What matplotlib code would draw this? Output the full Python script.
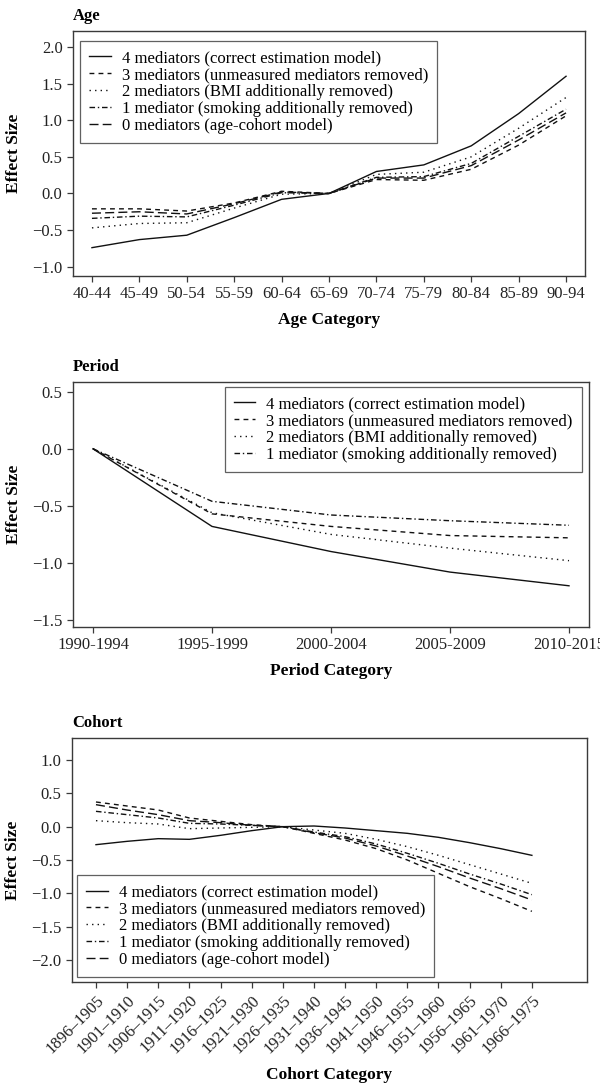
import matplotlib
matplotlib.use("Agg")
import matplotlib.pyplot as plt

plt.rcParams['font.family'] = ['Liberation Serif', 'DejaVu Serif']
plt.rcParams['axes.unicode_minus'] = True

# ---------------- data ----------------
age_cats = ["40-44", "45-49", "50-54", "55-59", "60-64", "65-69", "70-74",
            "75-79", "80-84", "85-89", "90-94"]
age_m4 = [-0.74, -0.63, -0.57, -0.33, -0.08, 0.0, 0.30, 0.39, 0.65, 1.09, 1.60]
age_m3 = [-0.21, -0.21, -0.24, -0.13, 0.03, 0.0, 0.19, 0.18, 0.33, 0.66, 1.06]
age_m2 = [-0.47, -0.41, -0.40, -0.20, -0.01, 0.0, 0.26, 0.29, 0.50, 0.89, 1.31]
age_m1 = [-0.34, -0.31, -0.32, -0.16, 0.01, 0.0, 0.22, 0.23, 0.41, 0.78, 1.15]
age_m0 = [-0.27, -0.25, -0.28, -0.14, 0.02, 0.0, 0.21, 0.21, 0.38, 0.73, 1.10]

period_cats = ["1990-1994", "1995-1999", "2000-2004", "2005-2009", "2010-2015"]
period_m4 = [0.0, -0.68, -0.90, -1.08, -1.20]
period_m3 = [0.0, -0.57, -0.68, -0.76, -0.78]
period_m2 = [0.0, -0.56, -0.75, -0.87, -0.98]
period_m1 = [0.0, -0.46, -0.58, -0.63, -0.67]

cohort_cats = ["1896\u20131905", "1901\u20131910", "1906\u20131915", "1911\u20131920",
               "1916\u20131925", "1921\u20131930", "1926\u20131935", "1931\u20131940",
               "1936\u20131945", "1941\u20131950", "1946\u20131955", "1951\u20131960",
               "1956\u20131965", "1961\u20131970", "1966\u20131975"]
cohort_m4 = [-0.27, -0.22, -0.18, -0.19, -0.13, -0.06, 0.0, 0.01, -0.02, -0.06,
             -0.10, -0.16, -0.24, -0.33, -0.43]
cohort_m3 = [0.37, 0.31, 0.25, 0.13, 0.08, 0.03, 0.0, -0.10, -0.20, -0.33,
             -0.50, -0.70, -0.90, -1.08, -1.27]
cohort_m2 = [0.09, 0.06, 0.04, -0.03, -0.02, -0.01, 0.0, -0.05, -0.10, -0.19,
             -0.30, -0.43, -0.57, -0.71, -0.85]
cohort_m1 = [0.23, 0.18, 0.13, 0.05, 0.04, 0.02, 0.0, -0.08, -0.15, -0.26,
             -0.40, -0.55, -0.71, -0.86, -1.02]
cohort_m0 = [0.33, 0.25, 0.18, 0.09, 0.06, 0.02, 0.0, -0.09, -0.17, -0.29,
             -0.44, -0.60, -0.77, -0.93, -1.10]

labels = ["4 mediators (correct estimation model)",
          "3 mediators (unmeasured mediators removed)",
          "2 mediators (BMI additionally removed)",
          "1 mediator (smoking additionally removed)",
          "0 mediators (age-cohort model)"]

styles = [dict(linestyle='-'),
          dict(linestyle=(0, (3.5, 3))),
          dict(linestyle=(0, (1, 3))),
          dict(linestyle=(0, (4, 2, 1, 2))),
          dict(linestyle=(0, (6.5, 3)))]

FS_TICK = 12
FS_LEG = 12
FS_LAB = 12.5
FS_TITLE = 12
SPC = '#3a3a3a'

W_PX, H_PX = 600, 1083
fig = plt.figure(figsize=(W_PX / 100, H_PX / 100), dpi=100)


def add_axes_px(left, right, top, bottom):
    return fig.add_axes([left / W_PX, 1 - bottom / H_PX,
                         (right - left) / W_PX, (bottom - top) / H_PX])


def style_axes(ax):
    for s in ax.spines.values():
        s.set_color(SPC)
        s.set_linewidth(1.0)
    ax.tick_params(axis='both', direction='out', length=4.5, width=0.9,
                   pad=3.0, color=SPC, labelsize=FS_TICK, labelcolor='#222222',
                   top=False, right=False)


def draw(ax, cats, series, title, xlabel, ylim, yticks, xlim, legend_loc,
         legend_anchor, rot=False):
    x = list(range(len(cats)))
    for i, s in enumerate(series):
        ax.plot(x, s, color='#111111', linewidth=1.0, label=labels[i], **styles[i])
    ax.set_xlim(*xlim)
    ax.set_ylim(*ylim)
    ax.set_yticks(yticks)
    ax.set_yticklabels([f"{v:.1f}".replace('-', '\u2212') for v in yticks])
    ax.set_xticks(x)
    if rot:
        ax.set_xticklabels(cats, rotation=45, ha='right', rotation_mode='anchor')
    else:
        ax.set_xticklabels(cats)
    ax.set_title(title, loc='left', fontsize=FS_TITLE, fontweight='bold', pad=8)
    ax.set_xlabel(xlabel, fontsize=FS_LAB, fontweight='bold', labelpad=7)
    ax.set_ylabel("Effect Size", fontsize=FS_LAB, fontweight='bold')
    ax.yaxis.set_label_coords(-0.099, 0.5)
    style_axes(ax)
    leg = ax.legend(loc=legend_loc, bbox_to_anchor=legend_anchor,
                    fontsize=FS_LEG, frameon=True, fancybox=False,
                    handlelength=1.3, handletextpad=0.65, labelspacing=0.05,
                    borderpad=0.55, borderaxespad=0.0)
    leg.get_frame().set_edgecolor(SPC)
    leg.get_frame().set_linewidth(0.9)
    return ax


ax1 = add_axes_px(73, 585, 31, 276)
draw(ax1, age_cats, [age_m4, age_m3, age_m2, age_m1, age_m0], "Age", "Age Category",
     (-1.127, 2.218), [-1.0, -0.5, 0.0, 0.5, 1.0, 1.5, 2.0], (-0.40, 10.40),
     'upper left', (0.0137, 0.959))

ax2 = add_axes_px(73, 589, 382, 627)
draw(ax2, period_cats, [period_m4, period_m3, period_m2, period_m1], "Period",
     "Period Category", (-1.561, 0.585), [-1.5, -1.0, -0.5, 0.0, 0.5],
     (-0.168, 4.168), 'upper right', (0.986, 0.98))

ax3 = add_axes_px(72, 587, 738, 982)
draw(ax3, cohort_cats, [cohort_m4, cohort_m3, cohort_m2, cohort_m1, cohort_m0],
     "Cohort", "Cohort Category", (-2.33, 1.33),
     [-2.0, -1.5, -1.0, -0.5, 0.0, 0.5, 1.0], (-0.77, 15.77),
     'lower left', (0.0097, 0.0205), rot=True)

fig.savefig("out.png", dpi=100)
